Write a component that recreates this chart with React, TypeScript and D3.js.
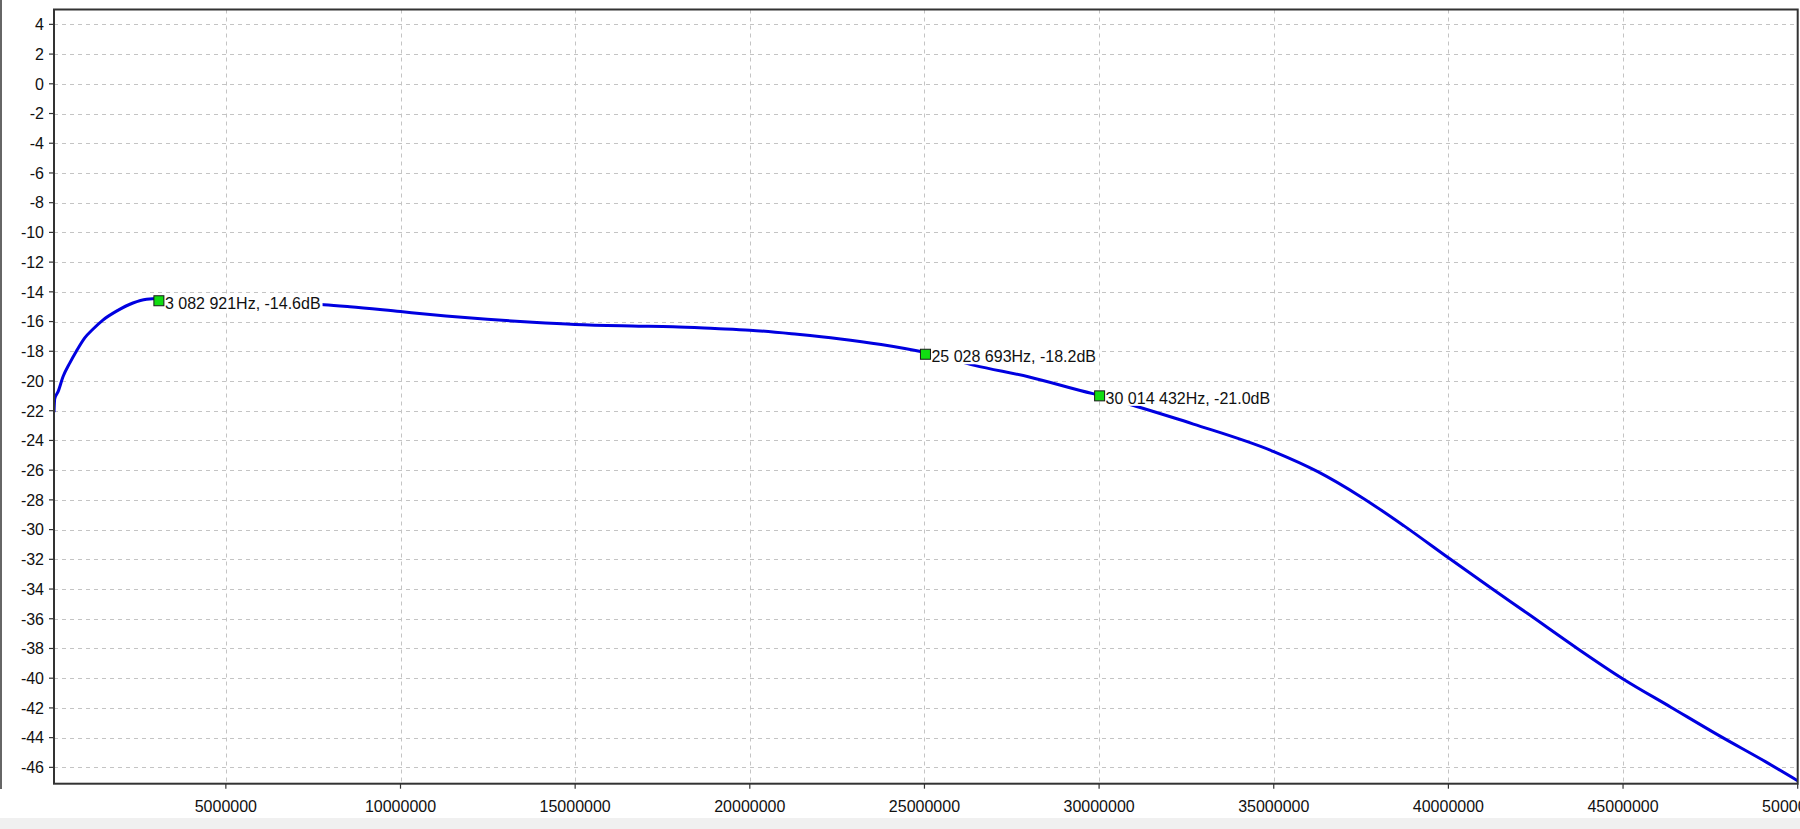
import React, { useMemo } from "react";
import * as d3 from "d3";

// frequency response (Hz / dB)
const freqHz = [
  80000, 100000, 200000, 340000, 530000, 720000, 960000, 1200000, 1480000,
  1870000, 2340000, 2730000, 3080000, 4000000, 5000000, 6000000, 7000000,
  7810000, 8550000, 10000000, 11300000, 12480000, 13780000, 15000000,
  16620000, 17800000, 19000000, 20000000, 21360000, 22540000, 23760000,
  25000000, 26430000, 28000000, 29820000, 30010000, 30850000, 32700000,
  35000000, 36260000, 37500000, 38730000, 40000000, 41200000, 42300000,
  43600000, 45000000, 46370000, 47740000, 49100000, 50000000,
];
const levelDb = [
  -22.1, -21.2, -20.7, -19.7, -18.8, -18.0, -17.1, -16.5, -15.9, -15.3,
  -14.75, -14.5, -14.45, -14.55, -14.6, -14.7, -14.8, -14.87, -15.0, -15.33,
  -15.62, -15.85, -16.05, -16.2, -16.3, -16.35, -16.47, -16.58, -16.86,
  -17.15, -17.54, -18.07, -18.95, -19.73, -20.85, -20.95, -21.55, -22.9,
  -24.75, -26.1, -27.8, -29.75, -31.9, -33.9, -35.7, -37.85, -40.05, -41.95,
  -43.85, -45.65, -46.9,
];

const markerHz = [3082921, 25028693, 30014432];
const markerDb = [-14.6, -18.2, -21.0];
const markerText = [
  "3 082 921Hz, -14.6dB",
  "25 028 693Hz, -18.2dB",
  "30 014 432Hz, -21.0dB",
];

const xTicks = [
  5000000, 10000000, 15000000, 20000000, 25000000, 30000000, 35000000,
  40000000, 45000000, 50000000,
];
const yTicks = [
  4, 2, 0, -2, -4, -6, -8, -10, -12, -14, -16, -18, -20, -22, -24, -26, -28,
  -30, -32, -34, -36, -38, -40, -42, -44, -46,
];

const W = 1800;
const H = 829;
const FONT = "'Liberation Sans', Arial, sans-serif";

const App: React.FC = () => {
  const left = 54;
  const right = 1797.7;
  const top = 9.5;
  const bottom = 783.7;

  const x = d3.scaleLinear().domain([80000, 50000000]).range([left, right]);
  const y = d3.scaleLinear().domain([-47.1, 5]).range([bottom, top]);

  const pts = freqHz.map((f, i) => [f, levelDb[i]] as [number, number]);
  const line = d3
    .line<[number, number]>()
    .x((d) => x(d[0]))
    .y((d) => y(d[1]))
    .curve(d3.curveMonotoneX);

  // text widths for the white label boxes
  const widths = useMemo(() => {
    const ctx = document.createElement("canvas").getContext("2d");
    if (!ctx) return markerText.map((t) => t.length * 8);
    ctx.font = `16px ${FONT}`;
    return markerText.map((t) => ctx.measureText(t).width);
  }, []);

  return (
    <div style={{ position: "fixed", left: 0, top: 0, width: W, height: H, background: "#fff" }}>
      <svg width={W} height={H} style={{ display: "block" }}>
        <defs>
          <clipPath id="plot-clip">
            <rect x={left} y={top} width={right - left} height={bottom - top} />
          </clipPath>
        </defs>

        {/* window edge and bottom strip */}
        <line x1={1} x2={1} y1={0} y2={789} stroke="#333" strokeWidth={1.5} />
        <rect x={0} y={818} width={W} height={H - 818} fill="#f0f0f0" />

        {/* grid */}
        <g stroke="#c4c4c4" strokeWidth={1} strokeDasharray="4,4">
          {yTicks.map((t) => (
            <line key={"gy" + t} x1={left} x2={right} y1={Math.round(y(t)) + 0.5} y2={Math.round(y(t)) + 0.5} />
          ))}
          {xTicks.slice(0, -1).map((t) => (
            <line key={"gx" + t} x1={Math.round(x(t)) + 0.5} x2={Math.round(x(t)) + 0.5} y1={top} y2={bottom} />
          ))}
        </g>

        {/* curve */}
        <path
          d={line(pts) || ""}
          fill="none"
          stroke="#0000e0"
          strokeWidth={3}
          strokeLinejoin="round"
          clipPath="url(#plot-clip)"
        />

        {/* label boxes cover the line */}
        {markerHz.map((f, i) => (
          <rect
            key={"bx" + i}
            x={x(f) + 5}
            y={y(markerDb[i]) - 7}
            width={widths[i] + 3}
            height={17}
            fill="#fff"
          />
        ))}

        {/* markers */}
        {markerHz.map((f, i) => (
          <rect
            key={"mk" + i}
            x={x(f) - 5}
            y={y(markerDb[i]) - 5}
            width={10}
            height={10}
            fill="#11dd11"
            stroke="#1a1a1a"
            strokeWidth={1}
          />
        ))}
        {markerHz.map((f, i) => (
          <text
            key={"mt" + i}
            x={x(f) + 6}
            y={y(markerDb[i]) + 8}
            fontFamily={FONT}
            fontSize={16}
            fill="#111"
          >
            {markerText[i]}
          </text>
        ))}

        {/* frame */}
        <rect
          x={left}
          y={top}
          width={right - left}
          height={bottom - top}
          fill="none"
          stroke="#333"
          strokeWidth={2}
        />

        {/* y axis */}
        <g fontFamily={FONT} fontSize={16} fill="#111">
          {yTicks.map((t) => (
            <g key={"yt" + t}>
              <line x1={left - 5} x2={left} y1={y(t)} y2={y(t)} stroke="#333" strokeWidth={1.2} />
              <text x={44} y={y(t) + 5.8} textAnchor="end">
                {t}
              </text>
            </g>
          ))}
        </g>

        {/* x axis */}
        <g fontFamily={FONT} fontSize={16} fill="#111">
          {xTicks.map((t) => (
            <g key={"xt" + t}>
              <line x1={x(t)} x2={x(t)} y1={bottom} y2={bottom + 5} stroke="#333" strokeWidth={1.2} />
              <text x={x(t)} y={811.5} textAnchor="middle">
                {t}
              </text>
            </g>
          ))}
        </g>
      </svg>
    </div>
  );
};

export default App;
